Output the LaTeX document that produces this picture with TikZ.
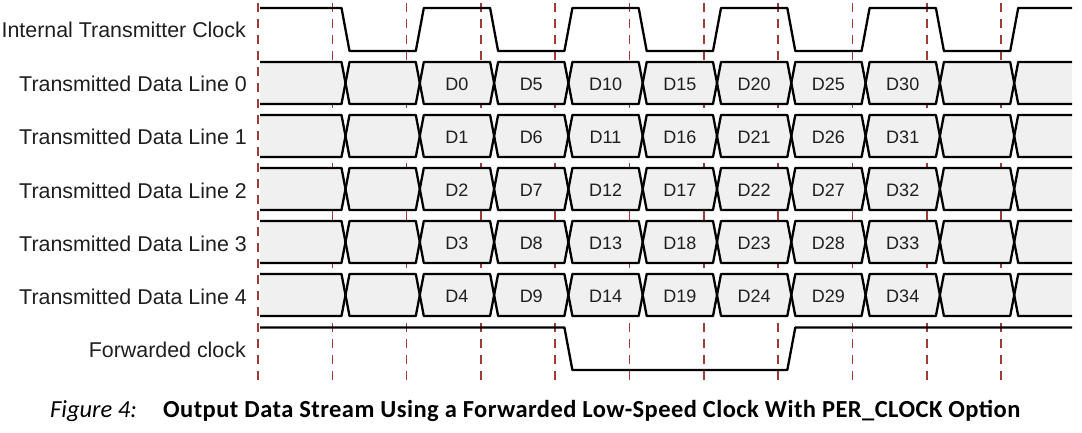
\documentclass[tikz,border=0pt]{standalone}
\usepackage{fontspec}
\setmainfont{Liberation Sans}
\newfontfamily\capfont{Carlito}
\newfontfamily\capbold[LetterSpace=1.8]{Carlito Bold}
\definecolor{dashred}{HTML}{A33A3A}
\definecolor{cellfill}{HTML}{F0F0F0}
\begin{document}
\begin{tikzpicture}[x=1pt,y=-1pt,
  sig/.style={line width=2.3pt, black, line join=round, line cap=butt},
  gridline/.style={dashred, line width=1.6pt, dash pattern=on 9pt off 7pt},
  cellbg/.style={fill=cellfill, draw=none},
  lbl/.style={anchor=base east, font=\fontsize{21.4}{24}\selectfont, text=black!88, inner sep=0pt},
  dlbl/.style={anchor=base, font=\fontsize{18}{21}\selectfont, text=black!88, inner sep=0pt},
  capit/.style={anchor=base west, font=\capfont\itshape\fontsize{24.5}{28}\selectfont, inner sep=0pt},
  capbf/.style={anchor=base west, font=\capbold\fontsize{24.5}{28}\selectfont, inner sep=0pt}]
\useasboundingbox (0,0) rectangle (1082,433);
\def\Tz{345.5}
\def\Pd{74.3}
% grid lines (behind)
\foreach \k in {0,...,10} {
  \coordinate (gt\k) at ({258+\Pd*\k},3);
  \coordinate (gb\k) at ({258+\Pd*\k},382);
  \draw[gridline] (gt\k) -- (gb\k);
}
% labels
\node[lbl] (lclk) at (246,38) {Internal Transmitter Clock};
\foreach \r in {0,...,4} {
  \node[lbl] (lrow\r) at (247,{92+53*\r}) {Transmitted Data Line \r};
}
\node[lbl] (lfwd) at (246,357) {Forwarded clock};
% internal clock
\draw[sig] (260,8) \foreach \j [evaluate=\j as \xa using {\Tz+\Pd*\j-4},
   evaluate=\j as \xb using {\Tz+\Pd*\j+4},
   evaluate=\j as \ya using {8+43*mod(\j,2)},
   evaluate=\j as \yb using {51-43*mod(\j,2)}] in {0,...,9} { -- (\xa,\ya) -- (\xb,\yb) } -- (1072,8);
% data lines
\foreach \r in {0,...,4} {
  \pgfmathsetmacro{\yt}{62+53*\r}
  \pgfmathsetmacro{\yb}{104+53*\r}
  \pgfmathsetmacro{\ym}{83+53*\r}
  % fills
  \fill[cellfill] (260,\yt) -- ({\Tz-4},\yt) -- (\Tz,\ym) -- ({\Tz-4},\yb) -- (260,\yb) -- cycle;
  \foreach \j in {0,...,8} {
    \fill[cellfill] ({\Tz+\Pd*\j},\ym) -- ({\Tz+\Pd*\j+4},\yt) -- ({\Tz+\Pd*(\j+1)-4},\yt)
      -- ({\Tz+\Pd*(\j+1)},\ym) -- ({\Tz+\Pd*(\j+1)-4},\yb) -- ({\Tz+\Pd*\j+4},\yb) -- cycle;
  }
  \fill[cellfill] ({\Tz+\Pd*9},\ym) -- ({\Tz+\Pd*9+4},\yt) -- (1072,\yt) -- (1072,\yb) -- ({\Tz+\Pd*9+4},\yb) -- cycle;
  % outlines (two zigzag lines forming the X crossings)
  \draw[sig] (260,\yt) \foreach \j [evaluate=\j as \xa using {\Tz+\Pd*\j-4},
     evaluate=\j as \xb using {\Tz+\Pd*\j+4},
     evaluate=\j as \ya using {\yt+42*mod(\j,2)},
     evaluate=\j as \yc using {\yb-42*mod(\j,2)}] in {0,...,9} { -- (\xa,\ya) -- (\xb,\yc) } -- (1072,\yt);
  \draw[sig] (260,\yb) \foreach \j [evaluate=\j as \xa using {\Tz+\Pd*\j-4},
     evaluate=\j as \xb using {\Tz+\Pd*\j+4},
     evaluate=\j as \ya using {\yb-42*mod(\j,2)},
     evaluate=\j as \yc using {\yt+42*mod(\j,2)}] in {0,...,9} { -- (\xa,\ya) -- (\xb,\yc) } -- (1072,\yb);
  % data labels
  \foreach \m in {0,...,6} {
    \pgfmathtruncatemacro{\dn}{\r+5*\m}
    \node[dlbl] (d\dn) at ({\Tz+\Pd*(\m+0.5)+\Pd},{90.5+53*\r}) {D\dn};
  }
}
% forwarded clock
\draw[sig] (260,327.5) -- ({\Tz+3*\Pd-4},327.5) -- ({\Tz+3*\Pd+4},370)
  -- ({\Tz+6*\Pd-4},370) -- ({\Tz+6*\Pd+4},327.5) -- (1072,327.5);
% caption
\node[capit] (capA) at (50,417) {Figure 4:};
\node[capbf] (capB) at (163,417) {Output Data Stream Using a Forwarded Low-Speed Clock With PER\_CLOCK Option};
\end{tikzpicture}
\end{document}
